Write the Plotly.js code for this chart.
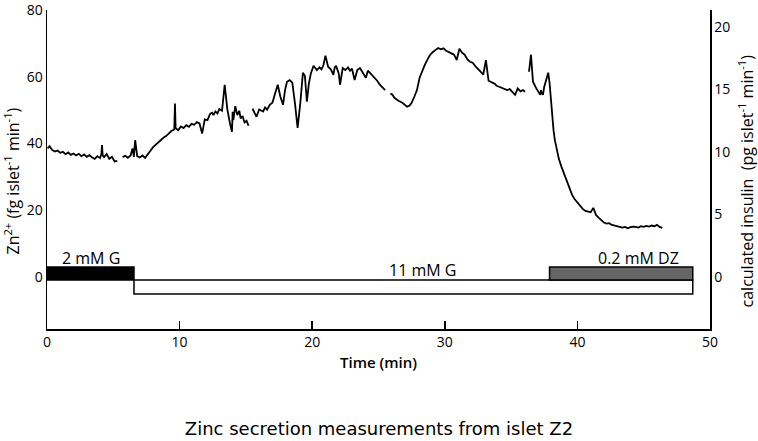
<!DOCTYPE html>
<html>
<head>
<meta charset="utf-8">
<script src="https://cdn.plot.ly/plotly-3.0.1.min.js"></script>
<style>
  html, body { margin: 0; padding: 0; background: #fff; }
  #plot { width: 758px; height: 441px; }
</style>
</head>
<body>
<div id="plot"></div>
<script>
// Zn2+ secretion trace; null marks a gap in the recording
let timeMin = [
  0.05,0.2,0.4,0.6,0.8,1.0,1.2,1.4,1.6,1.8,2.0,2.2,2.4,2.6,2.8,3.0,3.2,3.4,3.6,3.8,4.0,4.1,4.15,4.2,4.3,4.5,4.7,4.9,5.1,5.3,
  5.5,
  5.7,5.9,6.1,6.3,6.45,6.55,6.65,6.8,7.0,7.2,7.4,7.6,7.8,8.0,8.2,8.4,8.6,8.8,9.0,9.2,9.4,9.6,9.65,9.7,9.9,10.1,10.3,10.5,10.7,10.9,
  11.1,11.3,11.5,11.7,11.9,12.1,12.3,12.45,12.55,12.7,12.85,13.0,13.2,13.4,13.6,13.8,13.95,14.0,14.05,14.2,14.35,14.5,14.6,14.75,
  14.9,15.05,15.2,15.35,15.5,15.65,15.8,
  16.0,
  16.3,16.45,16.6,16.8,17.0,17.2,17.4,17.6,17.8,17.95,18.1,18.3,18.5,18.7,18.9,19.1,19.3,19.45,19.6,19.75,19.9,20.1,20.35,20.55,
  20.7,20.85,21.0,21.2,21.4,21.6,21.7,21.8,22.0,22.1,22.3,22.5,22.7,22.85,23.0,23.2,23.4,23.6,23.8,24.05,24.2,24.4,24.55,24.7,
  24.9,25.1,25.3,25.5,25.7,25.9,26.05,26.2,
  26.5,
  26.8,26.95,27.15,27.35,27.5,27.7,27.9,28.1,28.3,28.5,28.7,28.9,29.1,29.3,29.5,29.7,29.9,30.1,30.3,30.5,30.7,30.9,31.1,31.3,
  31.5,31.6,31.7,31.9,32.1,32.3,32.5,32.7,32.9,33.1,33.3,33.5,33.7,33.8,33.9,34.1,34.3,34.5,34.7,34.9,35.1,35.3,35.5,35.7,35.9,
  36.05,36.2,36.35,36.5,36.65,
  36.9,
  37.2,37.25,37.3,37.4,37.5,37.6,37.7,37.8,37.9,38.0,38.1,38.2,38.3,38.45,38.6,38.8,39.0,39.2,39.4,39.6,39.8,40.0,40.2,40.4,
  40.6,40.8,41.0,41.2,41.4,41.6,41.8,41.9,42.0,42.2,42.4,42.6,42.8,43.0,43.2,43.4,43.6,43.8,44.0,44.2,44.4,44.6,44.8,45.0,45.2,
  45.4,45.6,45.8,46.0,46.2,46.4,46.6,46.8,47.0,47.1
];
let zincRate = [
  38.5,39.2,38.0,37.6,37.9,37.2,37.5,36.8,37.3,36.6,37.0,36.4,36.9,36.2,36.7,36.0,36.5,35.8,35.4,36.2,35.6,36.8,39.5,36.4,35.9,36.8,35.4,36.0,34.6,34.8,
  null,
  35.9,36.3,35.7,36.4,38.5,36.0,41.0,36.2,35.8,36.4,35.7,36.6,37.8,38.9,39.6,40.5,41.0,41.8,42.3,43.2,43.8,44.2,52.0,44.6,44.0,45.1,
  44.6,45.5,45.0,45.9,45.6,46.4,46.0,43.0,47.2,47.0,48.9,49.2,48.5,49.6,49.0,50.3,49.8,57.6,50.2,46.0,43.5,49.5,47.0,51.2,
  48.5,49.8,47.5,48.2,46.3,46.8,45.3,
  null,
  50.4,49.2,48.0,50.2,49.6,50.8,50.1,51.6,52.2,55.0,57.6,54.0,51.6,56.0,58.5,59.0,58.2,52.0,44.7,52.0,61.2,60.2,52.5,58.0,
  61.0,63.3,62.0,62.8,62.2,63.5,66.3,63.0,62.2,60.6,62.8,63.3,61.0,57.6,62.6,62.0,62.8,61.8,62.4,59.0,62.0,62.6,61.2,59.7,
  61.8,61.0,60.2,59.6,58.8,57.6,56.8,56.0,
  null,
  55.0,54.6,53.7,52.8,52.2,51.6,51.0,51.4,52.2,54.0,56.0,59.7,61.8,63.6,65.2,66.6,67.4,68.0,68.6,68.2,68.5,67.8,67.5,67.0,
  66.6,65.0,68.4,67.2,66.6,65.8,65.2,64.5,64.2,63.2,62.2,61.5,60.6,65.0,58.8,58.5,58.0,57.8,57.3,57.0,56.6,56.4,56.0,56.3,55.4,
  54.6,56.5,55.6,56.0,55.5,
  null,
  61.5,66.6,58.5,56.5,54.6,56.0,55.2,54.6,57.0,58.2,59.5,61.2,58.2,53.0,48.5,44.0,41.0,38.0,35.4,33.0,30.8,28.5,26.3,24.6,
  23.3,22.3,21.3,20.4,19.8,19.6,19.4,20.7,18.6,17.8,17.0,16.6,16.3,16.0,16.1,15.6,15.4,15.2,14.9,14.8,15.0,14.6,14.9,15.1,15.0,
  14.8,15.2,15.0,15.3,15.1,15.4,15.2,15.6,15.0,14.7
];

// perfusion protocol boxes below the trace (time in min, box bottom/top in Zn units)
let protocolNames = ['2 mM G', '11 mM G', '0.2 mM DZ'];
let protocolStart = [0, 6.56, 37.9];
let protocolEnd = [6.56, 48.7, 48.7];
let protocolLow = [-0.9, -5.1, -0.9];
let protocolHigh = [3, -0.9, 3];
let protocolFill = ['#000000', '#ffffff', '#666666'];
// where each protocol label sits
let labelX = [3.3, 28.3, 44.6];
let labelY = [5.6, 2.1, 5.6];

let traceZinc = {
  x: timeMin,
  y: zincRate,
  type: 'scatter',
  mode: 'lines',
  line: {color: '#000', width: 1.8},
  connectgaps: false,
  showlegend: false,
  hoverinfo: 'skip'
};

// empty trace so the right-hand insulin axis gets drawn
let traceInsulin = {
  x: [],
  y: [],
  yaxis: 'y2',
  type: 'scatter',
  mode: 'lines',
  showlegend: false
};

let shapes = protocolNames.map(function (name, i) {
  return {
    type: 'rect', xref: 'x', yref: 'y',
    x0: protocolStart[i], x1: protocolEnd[i],
    y0: protocolLow[i], y1: protocolHigh[i],
    fillcolor: protocolFill[i],
    line: {color: '#000', width: 1.5},
    layer: 'above'
  };
});

let textFont = {family: 'Open Sans, sans-serif', size: 16, color: '#000'};

let annotations = protocolNames.map(function (name, i) {
  return {
    x: labelX[i], y: labelY[i], xref: 'x', yref: 'y',
    text: name, showarrow: false, yanchor: 'middle',
    font: textFont
  };
});

// axis titles placed as annotations so they sit where the original has them
annotations.push({
  x: -0.053, y: 0.465, xref: 'paper', yref: 'paper',
  text: 'Zn<sup>2+</sup> (fg islet<sup>-1</sup> min<sup>-1</sup>)',
  textangle: -90, showarrow: false, xanchor: 'center', yanchor: 'middle',
  font: textFont
});
annotations.push({
  x: 1.054, y: 0.465, xref: 'paper', yref: 'paper',
  text: 'calculated insulin  (pg islet<sup>-1</sup> min<sup>-1</sup>)',
  textangle: -90, showarrow: false, xanchor: 'center', yanchor: 'middle',
  font: textFont
});
annotations.push({
  x: 0.5, y: -0.104, xref: 'paper', yref: 'paper',
  text: 'Time (min)', showarrow: false, xanchor: 'center', yanchor: 'middle',
  font: {family: 'Open Sans, sans-serif', size: 15, color: '#000', weight: 600}
});

let axisFont = {family: 'Open Sans, sans-serif', size: 14, color: '#000'};

var layout = {
  width: 758,
  height: 441,
  margin: {l: 47, r: 48, t: 10, b: 112},
  paper_bgcolor: '#fff',
  plot_bgcolor: '#fff',
  title: {
    text: 'Zinc secretion measurements from islet Z2',
    font: {family: 'DejaVu Sans, Verdana, sans-serif', size: 18, color: '#000'},
    x: 0.5, xanchor: 'center',
    y: 0.027, yref: 'container', yanchor: 'middle'
  },
  xaxis: {
    range: [0, 50],
    tickvals: [0, 10, 20, 30, 40, 50],
    ticks: 'inside', ticklen: 8, tickwidth: 1.5, tickcolor: '#000',
    showline: true, linewidth: 1.5, linecolor: '#000',
    showgrid: false, zeroline: false,
    ticklabeloverflow: 'allow',
    tickfont: axisFont
  },
  yaxis: {
    range: [-15.6, 80],
    tickvals: [0, 20, 40, 60, 80],
    ticks: '',
    showline: true, linewidth: 1.5, linecolor: '#000',
    showgrid: false, zeroline: false,
    ticklabeloverflow: 'allow',
    tickfont: axisFont
  },
  yaxis2: {
    overlaying: 'y',
    side: 'right',
    range: [-4.16, 21.36],
    tickvals: [0, 5, 10, 15, 20],
    ticks: '',
    showline: true, linewidth: 1.5, linecolor: '#000',
    showgrid: false, zeroline: false,
    ticklabeloverflow: 'allow',
    tickfont: axisFont
  },
  shapes: shapes,
  annotations: annotations
};

Plotly.newPlot('plot', [traceZinc, traceInsulin], layout, {displayModeBar: false, staticPlot: true});
</script>
</body>
</html>
